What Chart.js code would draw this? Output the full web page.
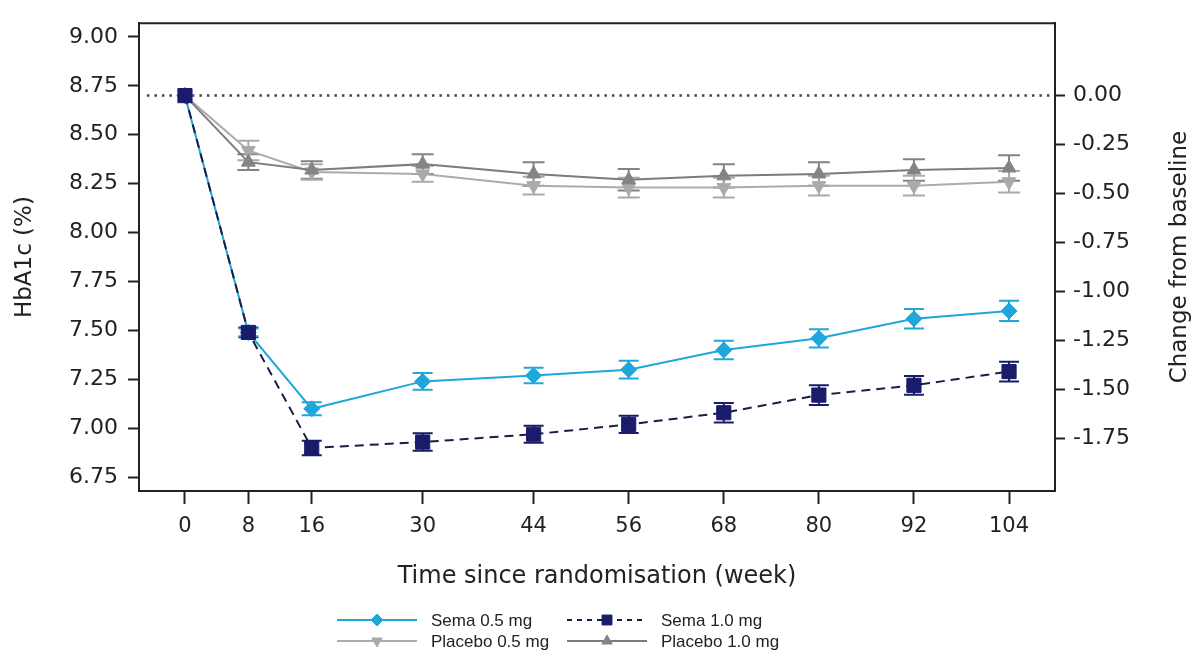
<!DOCTYPE html>
<html>
<head>
<meta charset="utf-8">
<script src="https://cdn.jsdelivr.net/npm/chart.js@4.4.0/dist/chart.umd.min.js"></script>
<style>
  body { margin: 0; background: #fff; }
  canvas { display: block; }
</style>
</head>
<body>
<canvas id="chart" width="1196" height="657"></canvas>
<script>
'use strict';

// values (HbA1c %, mean +/- error)
const weeks = [0, 8, 16, 30, 44, 56, 68, 80, 92, 104];
const sema05 = [8.70, 7.49, 7.10, 7.24, 7.27, 7.30, 7.40, 7.46, 7.56, 7.60];
const sema05Err = [0, 0.02, 0.033, 0.043, 0.04, 0.045, 0.047, 0.047, 0.05, 0.052];
const sema10 = [8.70, 7.49, 6.90, 6.93, 6.97, 7.02, 7.08, 7.17, 7.22, 7.29];
const sema10Err = [0, 0.025, 0.037, 0.045, 0.043, 0.044, 0.05, 0.05, 0.048, 0.05];
const placebo05 = [8.70, 8.42, 8.31, 8.30, 8.24, 8.23, 8.23, 8.24, 8.24, 8.26];
const placebo05Err = [0, 0.05, 0.04, 0.04, 0.045, 0.05, 0.05, 0.05, 0.05, 0.055];
const placebo10 = [8.70, 8.36, 8.32, 8.35, 8.30, 8.27, 8.29, 8.30, 8.32, 8.33];
const placebo10Err = [0, 0.04, 0.045, 0.05, 0.06, 0.055, 0.06, 0.06, 0.055, 0.065];

const baseline = 8.70;
const leftTicks = [6.75, 7.00, 7.25, 7.50, 7.75, 8.00, 8.25, 8.50, 8.75, 9.00];
const rightTicks = [-1.75, -1.50, -1.25, -1.00, -0.75, -0.50, -0.25, 0.00];
const xMin = -5.8, xMax = 109.8;
const yMin = 6.68, yMax = 9.07;

const legendItems = [
    { label: 'Sema 0.5 mg', col: 0, row: 0 },
    { label: 'Sema 1.0 mg', col: 1, row: 0 },
    { label: 'Placebo 0.5 mg', col: 0, row: 1 },
    { label: 'Placebo 1.0 mg', col: 1, row: 1 }
];

const TEXT = '#222';
const FONT = "'DejaVu Sans', sans-serif";

const toPoints = (ys) => weeks.map((w, i) => ({ x: w, y: ys[i] }));

function drawMarker(ctx, style, x, y, r, rotation, color) {
    if (Chart.helpers && Chart.helpers.drawPoint) {
        ctx.fillStyle = color;
        ctx.strokeStyle = color;
        ctx.lineWidth = 1;
        Chart.helpers.drawPoint(ctx, { pointStyle: style, radius: r, rotation: rotation || 0, borderWidth: 1 }, x, y);
    }
}

// error bars + frame + legend + right axis title
const extrasPlugin = {
    id: 'extras',
    beforeDatasetsDraw(chart) {
        const ctx = chart.ctx;
        const yScale = chart.scales.y;
        chart.data.datasets.forEach((ds, di) => {
            if (!ds.errors) return;
            const meta = chart.getDatasetMeta(di);
            ctx.save();
            ctx.strokeStyle = ds.pointBackgroundColor;
            ctx.lineWidth = 2;
            meta.data.forEach((pt, i) => {
                const e = ds.errors[i];
                if (!e) return;
                const yTop = yScale.getPixelForValue(ds.data[i].y + e);
                const yBot = yScale.getPixelForValue(ds.data[i].y - e);
                const cap = ds.capHalf || 10;
                ctx.beginPath();
                ctx.moveTo(pt.x, yTop); ctx.lineTo(pt.x, yBot);
                ctx.moveTo(pt.x - cap, yTop); ctx.lineTo(pt.x + cap, yTop);
                ctx.moveTo(pt.x - cap, yBot); ctx.lineTo(pt.x + cap, yBot);
                ctx.stroke();
            });
            ctx.restore();
        });
    },
    afterDraw(chart) {
        const ctx = chart.ctx;
        const area = chart.chartArea;
        ctx.save();
        // top frame line
        ctx.strokeStyle = TEXT;
        ctx.lineWidth = 2;
        ctx.beginPath();
        ctx.moveTo(area.left - 1, area.top);
        ctx.lineTo(area.right + 1, area.top);
        ctx.stroke();

        // right axis title, reading bottom to top
        ctx.translate(1180, (area.top + area.bottom) / 2);
        ctx.rotate(-Math.PI / 2);
        ctx.fillStyle = TEXT;
        ctx.font = '23px ' + FONT;
        ctx.textAlign = 'center';
        ctx.textBaseline = 'middle';
        ctx.fillText('Change from baseline', 0, 0);
        ctx.restore();

        // legend
        const colX = [337, 567];
        const rowY = [620, 641];
        legendItems.forEach((item) => {
            const ds = chart.data.datasets.find(d => d.label === item.label);
            const x0 = colX[item.col];
            const y = rowY[item.row];
            const x1 = x0 + 80;
            ctx.save();
            ctx.strokeStyle = ds.borderColor;
            ctx.lineWidth = ds.borderWidth;
            ctx.setLineDash(ds.legendDash || []);
            ctx.beginPath();
            ctx.moveTo(x0, y);
            ctx.lineTo(x1, y);
            ctx.stroke();
            ctx.setLineDash([]);
            drawMarker(ctx, ds.pointStyle, (x0 + x1) / 2, y, ds.legendRadius, ds.pointRotation, ds.pointBackgroundColor);
            ctx.fillStyle = TEXT;
            ctx.font = "17px 'Liberation Sans', Arial, sans-serif";
            ctx.textAlign = 'left';
            ctx.textBaseline = 'middle';
            ctx.fillText(item.label, x1 + 14, y + 1);
            ctx.restore();
        });
    }
};

const tickGrid = (len) => ({
    display: true,
    drawOnChartArea: false,
    drawTicks: true,
    tickLength: len,
    tickColor: TEXT,
    tickWidth: 2
});

new Chart(document.getElementById('chart'), {
    type: 'line',
    data: {
        datasets: [
            {
                label: 'Sema 1.0 mg',
                data: toPoints(sema10),
                errors: sema10Err,
                borderColor: '#1c1d45',
                borderWidth: 2,
                borderDash: [9, 6],
                legendDash: [5, 5],
                pointStyle: 'rect',
                pointRadius: 10,
                legendRadius: 7,
                pointBackgroundColor: '#1a1c6a',
                pointBorderColor: '#1a1c6a',
                pointBorderWidth: 1
            },
            {
                label: 'Sema 0.5 mg',
                data: toPoints(sema05),
                errors: sema05Err,
                borderColor: '#1fa6da',
                borderWidth: 2,
                pointStyle: 'rectRot',
                pointRadius: 8,
                legendRadius: 6,
                pointBackgroundColor: '#1fa6da',
                pointBorderColor: '#1fa6da',
                pointBorderWidth: 1
            },
            {
                label: 'Placebo 1.0 mg',
                data: toPoints(placebo10),
                errors: placebo10Err,
                capHalf: 11,
                borderColor: '#7c7c7c',
                borderWidth: 2,
                pointStyle: 'triangle',
                pointRadius: 8,
                legendRadius: 6,
                pointBackgroundColor: '#848484',
                pointBorderColor: '#848484',
                pointBorderWidth: 1
            },
            {
                label: 'Placebo 0.5 mg',
                data: toPoints(placebo05),
                errors: placebo05Err,
                capHalf: 11,
                borderColor: '#ababab',
                borderWidth: 2,
                pointStyle: 'triangle',
                pointRotation: 180,
                pointRadius: 8,
                legendRadius: 6,
                pointBackgroundColor: '#aaaaaa',
                pointBorderColor: '#aaaaaa',
                pointBorderWidth: 1
            },
            {
                label: 'baseline',
                data: [{ x: xMin + 1, y: baseline }, { x: xMax - 0.5, y: baseline }],
                borderColor: '#444',
                borderWidth: 2.5,
                borderDash: [2.5, 5],
                pointRadius: 0
            }
        ]
    },
    options: {
        responsive: false,
        devicePixelRatio: 1,
        animation: false,
        layout: { padding: { left: 0, right: 0, top: 12, bottom: 66 } },
        plugins: {
            legend: { display: false },
            tooltip: { enabled: false }
        },
        scales: {
            x: {
                type: 'linear',
                min: xMin,
                max: xMax,
                afterBuildTicks: (scale) => { scale.ticks = weeks.map(v => ({ value: v })); },
                afterFit: (scale) => { scale.height = 100; },
                grid: tickGrid(13),
                border: { display: true, color: TEXT, width: 2 },
                ticks: {
                    autoSkip: false,
                    maxRotation: 0,
                    padding: 10,
                    color: TEXT,
                    font: { family: FONT, size: 21 },
                    callback: (v) => String(v)
                },
                title: {
                    display: true,
                    text: 'Time since randomisation (week)',
                    color: TEXT,
                    font: { family: FONT, size: 24 },
                    padding: { top: 0, bottom: 0 }
                }
            },
            y: {
                type: 'linear',
                position: 'left',
                min: yMin,
                max: yMax,
                afterBuildTicks: (scale) => { scale.ticks = leftTicks.map(v => ({ value: v })); },
                afterFit: (scale) => { scale.width = 139; },
                grid: tickGrid(11),
                border: { display: true, color: TEXT, width: 2 },
                ticks: {
                    padding: 10,
                    color: TEXT,
                    font: { family: FONT, size: 22 },
                    callback: (v) => v.toFixed(2)
                },
                title: {
                    display: true,
                    text: 'HbA1c (%)',
                    color: TEXT,
                    font: { family: FONT, size: 23 },
                    padding: { top: 11, bottom: 0 }
                }
            },
            y2: {
                type: 'linear',
                position: 'right',
                min: yMin - baseline,
                max: yMax - baseline,
                afterBuildTicks: (scale) => { scale.ticks = rightTicks.map(v => ({ value: v })); },
                afterFit: (scale) => { scale.width = 141; },
                grid: tickGrid(10),
                border: { display: true, color: TEXT, width: 2 },
                ticks: {
                    padding: 8,
                    color: TEXT,
                    font: { family: FONT, size: 22 },
                    callback: (v) => v.toFixed(2)
                }
            }
        }
    },
    plugins: [extrasPlugin]
});
</script>
</body>
</html>
